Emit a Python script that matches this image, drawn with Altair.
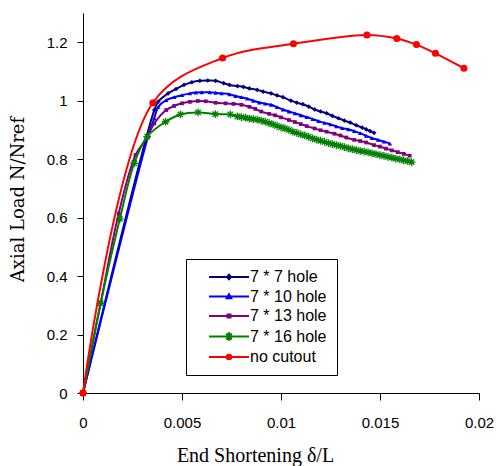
import altair as alt
import pandas as pd

series_names = ["7 * 7 hole", "7 * 10 hole", "7 * 13 hole", "7 * 16 hole", "no cutout"]
series_colors = ["#000080", "#0000FF", "#800080", "#008000", "#FF0000"]

h7_x = [0, 0.0036, 0.0038, 0.0043, 0.0047, 0.0051, 0.0055, 0.0059, 0.0063, 0.0067, 0.0071, 0.0074,
        0.0078, 0.0081, 0.0084, 0.0088, 0.0091, 0.0095, 0.0098, 0.0101, 0.0105, 0.0108, 0.0111,
        0.0114, 0.0117, 0.0120, 0.0123, 0.0126, 0.0129, 0.0132, 0.0135, 0.0138, 0.0141, 0.0143,
        0.0145, 0.0147]
h7_y = [0, 0.968, 0.997, 1.025, 1.040, 1.054, 1.063, 1.068, 1.069, 1.068, 1.060, 1.054,
        1.050, 1.047, 1.042, 1.037, 1.031, 1.025, 1.018, 1.012, 1.000, 0.993, 0.988,
        0.980, 0.970, 0.963, 0.957, 0.948, 0.940, 0.932, 0.925, 0.916, 0.908, 0.902,
        0.896, 0.890]

h10_x = [0, 0.0033, 0.0036, 0.0038, 0.0042, 0.0046, 0.0050, 0.0054, 0.0057, 0.0060, 0.0064, 0.0067,
         0.0070, 0.0074, 0.0077, 0.0080, 0.0083, 0.0086, 0.0089, 0.0092, 0.0095, 0.0098, 0.0101,
         0.0104, 0.0107, 0.0110, 0.0113, 0.0116, 0.0119, 0.0122, 0.0125, 0.0128, 0.0131, 0.0134,
         0.0137, 0.0140, 0.0143, 0.0146, 0.0149, 0.0152, 0.0155]
h10_y = [0, 0.880, 0.940, 0.979, 1.002, 1.012, 1.019, 1.025, 1.028, 1.029, 1.029, 1.027,
         1.025, 1.022, 1.016, 1.012, 1.007, 1.000, 0.994, 0.990, 0.986, 0.978, 0.970,
         0.963, 0.957, 0.950, 0.944, 0.937, 0.930, 0.924, 0.919, 0.912, 0.906, 0.902,
         0.896, 0.889, 0.880, 0.872, 0.866, 0.860, 0.853]

h13_x = [0, 0.0009, 0.0018, 0.00265, 0.0032, 0.0036, 0.0042, 0.0046, 0.0050, 0.0054, 0.0058, 0.0062,
         0.0067, 0.0072, 0.0076, 0.0080, 0.0084, 0.0087, 0.0090, 0.0094, 0.0097, 0.0100, 0.0104,
         0.0107, 0.0110, 0.0113, 0.0117, 0.0120, 0.0123, 0.0127, 0.0130, 0.0133, 0.0137, 0.0140,
         0.0143, 0.0147, 0.0150, 0.0153, 0.0156, 0.0159, 0.0162, 0.0165]
h13_y = [0, 0.310, 0.614, 0.814, 0.871, 0.922, 0.968, 0.982, 0.991, 0.996, 0.999, 0.998,
         0.993, 0.991, 0.989, 0.986, 0.979, 0.972, 0.963, 0.955, 0.950, 0.943, 0.934,
         0.927, 0.920, 0.913, 0.905, 0.899, 0.894, 0.887, 0.881, 0.874, 0.866, 0.862,
         0.857, 0.848, 0.843, 0.836, 0.830, 0.824, 0.818, 0.812]

h16_x = [0, 0.00089, 0.00186, 0.00259, 0.00324, 0.00417, 0.00492, 0.00581, 0.00668, 0.00744,
         0.0078, 0.0080, 0.0082, 0.0084, 0.0086, 0.0088, 0.0090, 0.0092, 0.0094, 0.0096, 0.0098,
         0.0100, 0.0102, 0.0104, 0.0106, 0.0108, 0.0110, 0.0112, 0.0114, 0.0116, 0.0118, 0.0120,
         0.0122, 0.0124, 0.0126, 0.0128, 0.0130, 0.0132, 0.0134, 0.0136, 0.0138, 0.0140, 0.0142,
         0.0144, 0.0146, 0.0148, 0.0150, 0.0152, 0.0154, 0.0156, 0.0158, 0.0160, 0.0162, 0.0164,
         0.0166]
h16_y = [0, 0.307, 0.596, 0.786, 0.877, 0.928, 0.953, 0.960, 0.954, 0.953,
         0.946, 0.944, 0.942, 0.939, 0.937, 0.935, 0.932, 0.928, 0.923, 0.919, 0.914,
         0.909, 0.905, 0.900, 0.894, 0.890, 0.885, 0.881, 0.876, 0.871, 0.867, 0.863,
         0.859, 0.855, 0.851, 0.848, 0.845, 0.841, 0.837, 0.834, 0.831, 0.828, 0.826,
         0.823, 0.820, 0.817, 0.814, 0.811, 0.808, 0.805, 0.802, 0.799, 0.796, 0.793,
         0.790]

nc_x = [0, 0.00353, 0.00705, 0.01063, 0.01434, 0.01585, 0.01684, 0.0178, 0.01924]
nc_y = [0, 0.993, 1.146, 1.195, 1.225, 1.213, 1.192, 1.162, 1.111]

x_ticks = [0, 0.005, 0.01, 0.015, 0.02]
y_ticks = [0, 0.2, 0.4, 0.6, 0.8, 1.0, 1.2]

series_x = [h7_x, h10_x, h13_x, h16_x, nc_x]
series_y = [h7_y, h10_y, h13_y, h16_y, nc_y]

ASTERISK = "M-1,0H1M0,-1V1M-0.7,-0.7L0.7,0.7M-0.7,0.7L0.7,-0.7"
marker_specs = [
    dict(shape="diamond", filled=True, size=22),
    dict(shape="triangle-up", filled=True, size=20),
    dict(shape="square", filled=True, size=14),
    dict(shape=ASTERISK, filled=False, size=60, strokeWidth=1.3),
    dict(shape="circle", filled=True, size=50),
]

legend_paths = [
    "M-1,0L7,0M3,-0.45L3.4,0L3,0.45L2.6,0Z",
    "M-1,0L7,0M3,-0.45L3.45,0.35L2.55,0.35Z",
    "M-1,0L7,0M2.7,-0.3H3.3V0.3H2.7Z",
    "M-1,0L7,0M2.2,0H3.8M3,-0.85V0.85M2.45,-0.6L3.55,0.6M2.45,0.6L3.55,-0.6",
    "M-1,0L7,0M2.55,0A0.45,0.45 0 1,0 3.45,0A0.45,0.45 0 1,0 2.55,0ZM2.8,0A0.2,0.2 0 1,0 3.2,0A0.2,0.2 0 1,0 2.8,0Z",
]

frames = []
for name, xs, ys in zip(series_names, series_x, series_y):
    frames.append(pd.DataFrame({"x": xs, "y": ys, "series": name}))
all_df = pd.concat(frames, ignore_index=True)


def X():
    return alt.X("x:Q", scale=alt.Scale(domain=[0, 0.02], nice=False),
                 axis=alt.Axis(values=x_ticks, format="~g", title="End Shortening   δ/L",
                               tickSize=7, labelPadding=15, labelFlush=False,
                               titleX=172, titleY=68,
                               titleBaseline="alphabetic", titleAlign="center",
                               titleFont="Liberation Serif", titleFontSize=20,
                               titleFontWeight="normal"))


def Y():
    return alt.Y("y:Q", scale=alt.Scale(domain=[0, 1.3], nice=False),
                 axis=alt.Axis(values=y_ticks, format="~g", title="Axial Load N/Nref",
                               tickSize=6, labelPadding=10, labelFlush=False,
                               titleX=-65, titleY=186,
                               titleAngle=-90, titleBaseline="middle", titleAlign="center",
                               titleFont="DejaVu Serif", titleFontSize=18,
                               titleFontWeight="normal"))


layers = []
for name, color, spec, df in zip(series_names, series_colors, marker_specs, frames):
    line = alt.Chart(df).mark_line(color=color, strokeWidth=2, interpolate="catmull-rom").encode(
        x=X(), y=Y())
    pt = alt.Chart(df).mark_point(color=color, opacity=1, **spec).encode(x=X(), y=Y())
    layers += [line, pt]

legend_props = dict(
    title=None, orient="none", legendX=103, legendY=246,
    strokeColor="black", fillColor="white", padding=10, cornerRadius=0,
    labelFont="Liberation Sans", labelFontSize=16, labelColor="black",
    symbolSize=100, symbolStrokeWidth=2, symbolOffset=10, labelOffset=28,
    rowPadding=3.5, labelLimit=300,
)
legend_layer = alt.Chart(all_df).mark_point(filled=False, opacity=0).encode(
    x=X(), y=Y(),
    color=alt.Color("series:N", scale=alt.Scale(domain=series_names, range=series_colors),
                    legend=alt.Legend(**legend_props)),
    shape=alt.Shape("series:N", scale=alt.Scale(domain=series_names, range=legend_paths),
                    legend=alt.Legend(**legend_props)),
)
layers.append(legend_layer)

chart = alt.layer(*layers).properties(
    width=396, height=380, autosize="none",
    padding={"left": 75, "top": 5, "right": 15, "bottom": 73},
    background="white",
).configure_view(strokeWidth=0).configure_axis(
    grid=False, domainColor="black", tickColor="black", labelColor="black",
    titleColor="black", labelFont="Liberation Sans", labelFontSize=15,
    domainWidth=1, tickWidth=1,
)

chart.save("out.html", embed_options={"renderer": "svg", "actions": False})
